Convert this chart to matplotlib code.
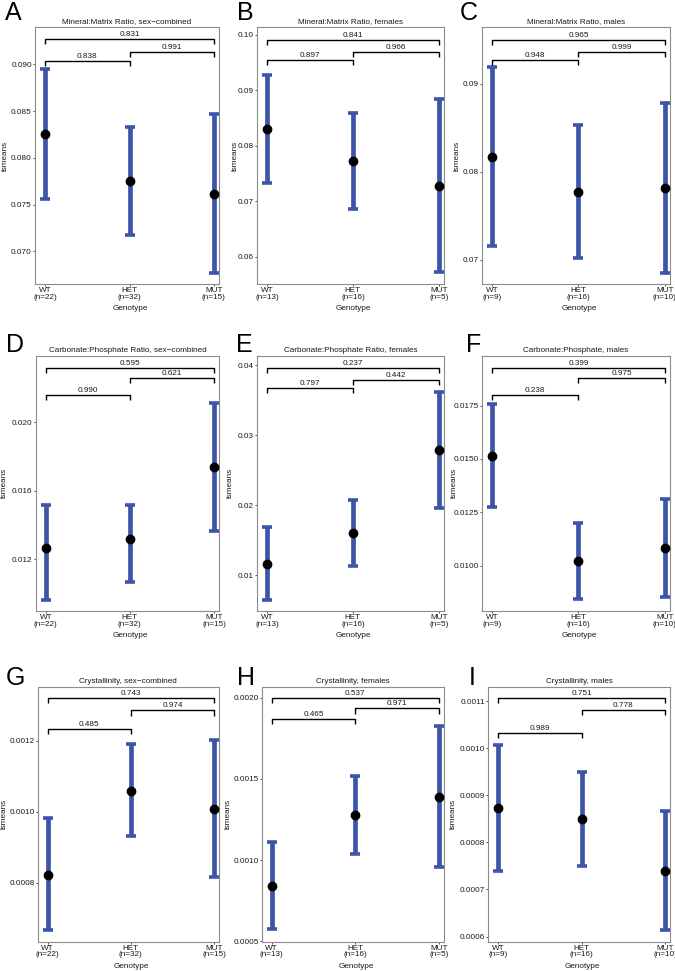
import matplotlib
matplotlib.use('Agg')
import matplotlib.pyplot as plt
import numpy as np

plt.rcParams['font.family'] = ['Liberation Sans', 'DejaVu Sans']

genotypes = ['WT', 'HET', 'MUT']
panel_letters = ['A', 'B', 'C', 'D', 'E', 'F', 'G', 'H', 'I']
titles = [
    'Mineral:Matrix Ratio, sex\u2212combined',
    'Mineral:Matrix Ratio, females',
    'Mineral:Matrix Ratio, males',
    'Carbonate:Phosphate Ratio, sex\u2212combined',
    'Carbonate:Phosphate Ratio, females',
    'Carbonate:Phosphate, males',
    'Crystallinity, sex\u2212combined',
    'Crystallinity, females',
    'Crystallinity, males',
]
n_counts = [
    [22, 32, 15], [13, 16, 5], [9, 16, 10],
    [22, 32, 15], [13, 16, 5], [9, 16, 10],
    [22, 32, 15], [13, 16, 5], [9, 16, 10],
]
# estimated marginal means (lsmeans) and confidence limits per genotype
means = [
    [0.08258, 0.07749, 0.07613],
    [0.08304, 0.07726, 0.07281],
    [0.08174, 0.07776, 0.07818],
    [0.01266, 0.01319, 0.01740],
    [0.01157, 0.01605, 0.02786],
    [0.01514, 0.01020, 0.01081],
    [0.000823, 0.001059, 0.001008],
    [0.000842, 0.001275, 0.001389],
    [0.000874, 0.000850, 0.000740],
]
lower = [
    [0.07563, 0.07178, 0.06772],
    [0.07335, 0.06854, 0.05717],
    [0.07159, 0.07023, 0.06856],
    [0.00960, 0.01067, 0.01366],
    [0.00643, 0.01133, 0.01952],
    [0.01277, 0.00842, 0.00855],
    [0.000667, 0.000931, 0.000815],
    [0.000576, 0.001034, 0.000956],
    [0.000740, 0.000750, 0.000613],
]
upper = [
    [0.08950, 0.08326, 0.08469],
    [0.09272, 0.08598, 0.08839],
    [0.09189, 0.08538, 0.08780],
    [0.01516, 0.01516, 0.02115],
    [0.01681, 0.02071, 0.03619],
    [0.01758, 0.01202, 0.01311],
    [0.000981, 0.001191, 0.001202],
    [0.001113, 0.001516, 0.001822],
    [0.001007, 0.000950, 0.000867],
]
# p-values: WT-HET, HET-MUT, WT-MUT
pvals = [
    ['0.838', '0.991', '0.831'],
    ['0.897', '0.966', '0.841'],
    ['0.948', '0.999', '0.965'],
    ['0.990', '0.621', '0.595'],
    ['0.797', '0.442', '0.237'],
    ['0.238', '0.975', '0.399'],
    ['0.485', '0.974', '0.743'],
    ['0.465', '0.971', '0.537'],
    ['0.989', '0.778', '0.751'],
]
bracket_levels = [
    [0.09039, 0.09135, 0.09271],
    [0.0955, 0.0970, 0.0991],
    [0.09273, 0.09367, 0.0950],
    [0.0216, 0.02258, 0.0232],
    [0.03676, 0.0379, 0.0396],
    [0.0180, 0.01878, 0.01928],
    [0.001232, 0.001285, 0.001321],
    [0.001867, 0.001933, 0.0020],
    [0.001033, 0.001081, 0.001108],
]
y_limits = [
    (0.06647, 0.09396),
    (0.05501, 0.10138),
    (0.06723, 0.09644),
    (0.00896, 0.0239),
    (0.004857, 0.04133),
    (0.007875, 0.01984),
    (0.000634, 0.001352),
    (0.000497, 0.002067),
    (0.000589, 0.001131),
]
y_ticklabels = [
    ['0.070', '0.075', '0.080', '0.085', '0.090'],
    ['0.06', '0.07', '0.08', '0.09', '0.10'],
    ['0.07', '0.08', '0.09'],
    ['0.012', '0.016', '0.020'],
    ['0.01', '0.02', '0.03', '0.04'],
    ['0.0100', '0.0125', '0.0150', '0.0175'],
    ['0.0008', '0.0010', '0.0012'],
    ['0.0005', '0.0010', '0.0015', '0.0020'],
    ['0.0006', '0.0007', '0.0008', '0.0009', '0.0010', '0.0011'],
]

W, H = 675, 971
fig = plt.figure(figsize=(W / 100, H / 100), dpi=100)

# axes boxes in pixels: left, top, right, bottom
rects = [
    (35, 27.3, 219, 284.3), (256.7, 27.3, 444, 284.3), (481.7, 27.3, 670, 284.3),
    (35.7, 355.7, 219, 611), (256.7, 355.7, 444, 611), (481.7, 355.7, 670, 611),
    (37.7, 686.7, 219, 941.7), (261.7, 686.7, 444, 941.7), (488.3, 686.7, 670, 941.7),
]
letter_pos = [(5, 20), (237, 20), (460, 20),
              (6, 352), (236, 352), (466, 352),
              (6, 685), (237, 685), (469, 685)]
ylabel_x = [5, 235, 457, 4, 230, 454, 4, 228, 453]

BLUE = '#3C55A8'
FS = 5.9

def fx(p):
    return p / W

def fy(p):
    return 1 - p / H

for i in range(9):
    l, t, r, b = rects[i]
    ax = fig.add_axes([fx(l), fy(b), fx(r) - fx(l), (b - t) / H])
    x = np.arange(1, 4)
    m = np.array(means[i])
    lo = np.array(lower[i])
    up = np.array(upper[i])
    ax.errorbar(x, m, yerr=[m - lo, up - m], fmt='none', ecolor=BLUE,
                elinewidth=3.4, capsize=3.3, capthick=2.6, zorder=2)
    ax.plot(x, m, 'o', color='black', ms=6, zorder=3)
    y0, y1 = y_limits[i]
    ax.set_ylim(y0, y1)
    ax.set_xlim(1 - 0.12, 3 + 0.06)
    tip = 0.02 * (y1 - y0)
    pairs = [(1, 2), (2, 3), (1, 3)]
    for (a, c), lev, p in zip(pairs, bracket_levels[i], pvals[i]):
        ax.plot([a, a, c, c], [lev - tip, lev, lev, lev - tip], color='black',
                lw=1.0, solid_capstyle='butt', zorder=4)
        ax.text((a + c) / 2, lev + 0.004 * (y1 - y0), p, ha='center', va='bottom',
                fontsize=FS, color='#1a1a1a')
    ticks = [float(s) for s in y_ticklabels[i]]
    ax.set_yticks(ticks)
    ax.set_yticklabels(y_ticklabels[i])
    ax.set_xticks(x)
    ax.set_xticklabels([f'{g}\n(n={n})' for g, n in zip(genotypes, n_counts[i])],
                       linespacing=0.95)
    ax.tick_params(axis='both', labelsize=FS, length=1.5, width=0.6, color='#333333',
                   labelcolor='#1a1a1a')
    ax.tick_params(axis='y', pad=0.8)
    ax.tick_params(axis='x', pad=0.6)
    for s in ax.spines.values():
        s.set_color('#8c8c8c')
        s.set_linewidth(0.8)
    ax.set_title(titles[i], fontsize=FS, pad=3, color='#1a1a1a')
    fig.text(fx(letter_pos[i][0]), fy(letter_pos[i][1]), panel_letters[i],
             fontsize=18, ha='left', va='baseline', color='black')
    fig.text(fx(ylabel_x[i]), fy((t + b) / 2), 'lsmeans', rotation=90,
             fontsize=FS, ha='center', va='center', color='#1a1a1a')
    fig.text(fx((l + r) / 2 + 3), fy(b + 24.5), 'Genotype', fontsize=FS,
             ha='center', va='center', color='#1a1a1a')

fig.savefig('out.png', dpi=100, facecolor='white')
